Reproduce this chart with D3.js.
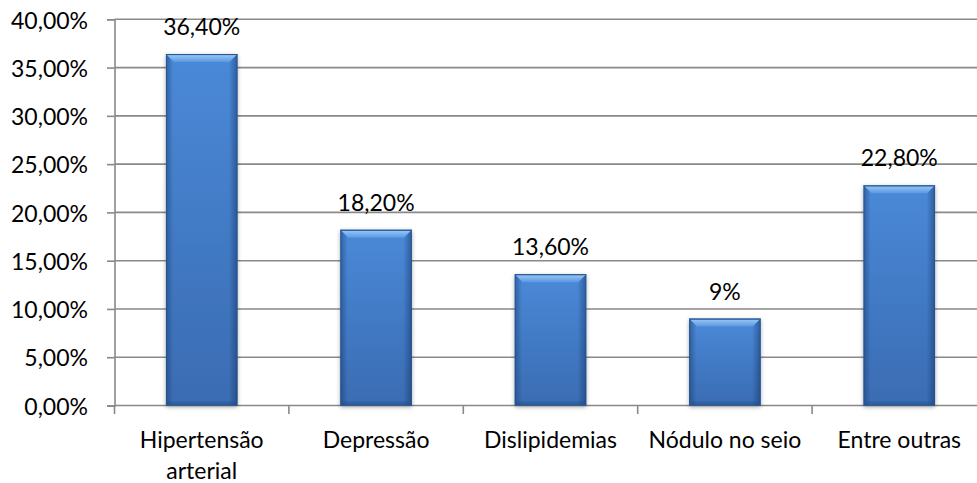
<!DOCTYPE html>
<html>
<head>
<meta charset="utf-8">
<script src="https://cdn.jsdelivr.net/npm/d3@7"></script>
<style>
  html, body { margin: 0; padding: 0; background: #ffffff; }
  svg { display: block; }
  text { font-family: Lato, "Open Sans", sans-serif; fill: #000; }
</style>
</head>
<body>
<svg id="chart" width="977" height="483"></svg>
<script>
// Categories and their shares (in %)
const categories = ["Hipertensão arterial", "Depressão", "Dislipidemias", "Nódulo no seio", "Entre outras"];
const values = [36.4, 18.2, 13.6, 9, 22.8];
const yTicks = [0, 5, 10, 15, 20, 25, 30, 35, 40];

const W = 977, H = 483;
const plotLeft = 114.5, plotRight = 986.5, plotTop = 19.3, plotBottom = 405.5;

const svg = d3.select("#chart");

const ptBR = d3.formatLocale({ decimal: ",", thousands: ".", grouping: [3], currency: ["R$", ""] });
const fmt2 = ptBR.format(".2f");
const tickFmt = v => fmt2(v) + "%";
const labelFmt = v => (Number.isInteger(v) ? String(v) : fmt2(v)) + "%";

const x = d3.scaleBand().domain(categories).range([plotLeft, plotRight]).paddingInner(0.59).paddingOuter(0.295);
const xb = d3.scaleBand().domain(categories).range([plotLeft, plotRight]).padding(0);
const y = d3.scaleLinear().domain([0, 40]).range([plotBottom, plotTop]);

// defs: gradients and shadow
const defs = svg.append("defs");
const vg = defs.append("linearGradient").attr("id", "barBody").attr("x1", 0).attr("y1", 0).attr("x2", 0).attr("y2", 1);
vg.append("stop").attr("offset", "0%").attr("stop-color", "#4a89d8");
vg.append("stop").attr("offset", "100%").attr("stop-color", "#3a6cb2");

const hg = defs.append("linearGradient").attr("id", "barSides").attr("x1", 0).attr("y1", 0).attr("x2", 1).attr("y2", 0);
hg.append("stop").attr("offset", "0%").attr("stop-color", "#10305e").attr("stop-opacity", 0.45);
hg.append("stop").attr("offset", "10%").attr("stop-color", "#10305e").attr("stop-opacity", 0.0);
hg.append("stop").attr("offset", "88%").attr("stop-color", "#10305e").attr("stop-opacity", 0.0);
hg.append("stop").attr("offset", "100%").attr("stop-color", "#10305e").attr("stop-opacity", 0.5);

const tg = defs.append("linearGradient").attr("id", "barTop").attr("x1", 0).attr("y1", 0).attr("x2", 0).attr("y2", 1);
tg.append("stop").attr("offset", "0%").attr("stop-color", "#9ccbf7");
tg.append("stop").attr("offset", "100%").attr("stop-color", "#5b98e2");

const sh = defs.append("filter").attr("id", "shadow").attr("x", "-20%").attr("y", "-10%").attr("width", "140%").attr("height", "120%");
sh.append("feDropShadow").attr("dx", 0).attr("dy", 1.5).attr("stdDeviation", 2.2)
  .attr("flood-color", "#000").attr("flood-opacity", 0.35);

// gridlines
svg.append("g").selectAll("line").data(yTicks.filter(d => d > 0)).join("line")
  .attr("x1", plotLeft).attr("x2", W)
  .attr("y1", d => y(d)).attr("y2", d => y(d))
  .attr("stroke", "#898989").attr("stroke-width", 1.6);

// y axis
const yAxis = svg.append("g").attr("transform", `translate(${plotLeft},0)`)
  .call(d3.axisLeft(y).tickValues(yTicks).tickFormat(tickFmt).tickSize(7.5).tickPadding(19));
yAxis.select(".domain").attr("stroke", "#898989").attr("stroke-width", 1.6);
yAxis.selectAll(".tick line").attr("stroke", "#898989").attr("stroke-width", 1.6);
yAxis.selectAll(".tick text").attr("font-size", 23).attr("font-family", "Lato, sans-serif")
  .attr("fill", "#000").attr("dy", "0.38em");

// x axis
svg.append("line").attr("x1", plotLeft).attr("x2", W).attr("y1", y(0)).attr("y2", y(0))
  .attr("stroke", "#898989").attr("stroke-width", 1.6);
svg.append("g").selectAll("line").data(categories).join("line")
  .attr("x1", d => xb(d)).attr("x2", d => xb(d))
  .attr("y1", y(0)).attr("y2", y(0) + 8.5)
  .attr("stroke", "#898989").attr("stroke-width", 1.6);

const xAxis = svg.append("g").attr("transform", `translate(0,${y(0)})`)
  .call(d3.axisBottom(x).tickSize(0).tickPadding(0));
xAxis.select(".domain").remove();
xAxis.selectAll(".tick text").each(function (d) {
  const t = d3.select(this);
  t.text(null).attr("font-size", 23).attr("font-family", "Lato, sans-serif").attr("fill", "#000").attr("dy", null).attr("y", 0);
  const lines = d === "Hipertensão arterial" ? ["Hipertensão", "arterial"] : [d];
  lines.forEach((ln, i) => {
    t.append("tspan").attr("x", 0).attr("y", 42.5 + i * 31).text(ln);
  });
});

// bars
const bev = 8;
const bars = svg.append("g").selectAll("g").data(categories).join("g");
bars.each(function (c, i) {
  const g = d3.select(this);
  const x0 = x(c), w = x.bandwidth(), y0 = y(values[i]), h = y(0) - y(values[i]);
  const x1 = x0 + w, y1 = y0 + h;
  g.append("rect").attr("x", x0).attr("y", y0).attr("width", w).attr("height", h)
    .attr("fill", "url(#barBody)").attr("filter", "url(#shadow)");
  g.append("rect").attr("x", x0).attr("y", y0).attr("width", w).attr("height", h)
    .attr("fill", "url(#barSides)");
  // bottom bevel
  g.append("polygon")
    .attr("points", [[x0, y1], [x1, y1], [x1 - 4, y1 - 4], [x0 + 4, y1 - 4]].map(p => p.join(",")).join(" "))
    .attr("fill", "#1e4a86").attr("opacity", 0.35);
  // top bevel
  g.append("polygon")
    .attr("points", [[x0, y0], [x1, y0], [x1 - bev, y0 + bev], [x0 + bev, y0 + bev]].map(p => p.join(",")).join(" "))
    .attr("fill", "url(#barTop)");
  g.append("line").attr("x1", x0).attr("x2", x1).attr("y1", y0 + 0.5).attr("y2", y0 + 0.5)
    .attr("stroke", "#2a5a9a").attr("stroke-width", 1);
  // outline
  g.append("rect").attr("x", x0 + 0.5).attr("y", y0 + 0.5).attr("width", w - 1).attr("height", h - 1)
    .attr("fill", "none").attr("stroke", "#24528f").attr("stroke-width", 1).attr("opacity", 0.7);
});

// data labels
svg.append("g").selectAll("text").data(categories).join("text")
  .attr("x", c => x(c) + x.bandwidth() / 2)
  .attr("y", (c, i) => y(values[i]) - 19)
  .attr("text-anchor", "middle")
  .attr("font-size", 23)
  .text((c, i) => labelFmt(values[i]));
</script>
</body>
</html>
